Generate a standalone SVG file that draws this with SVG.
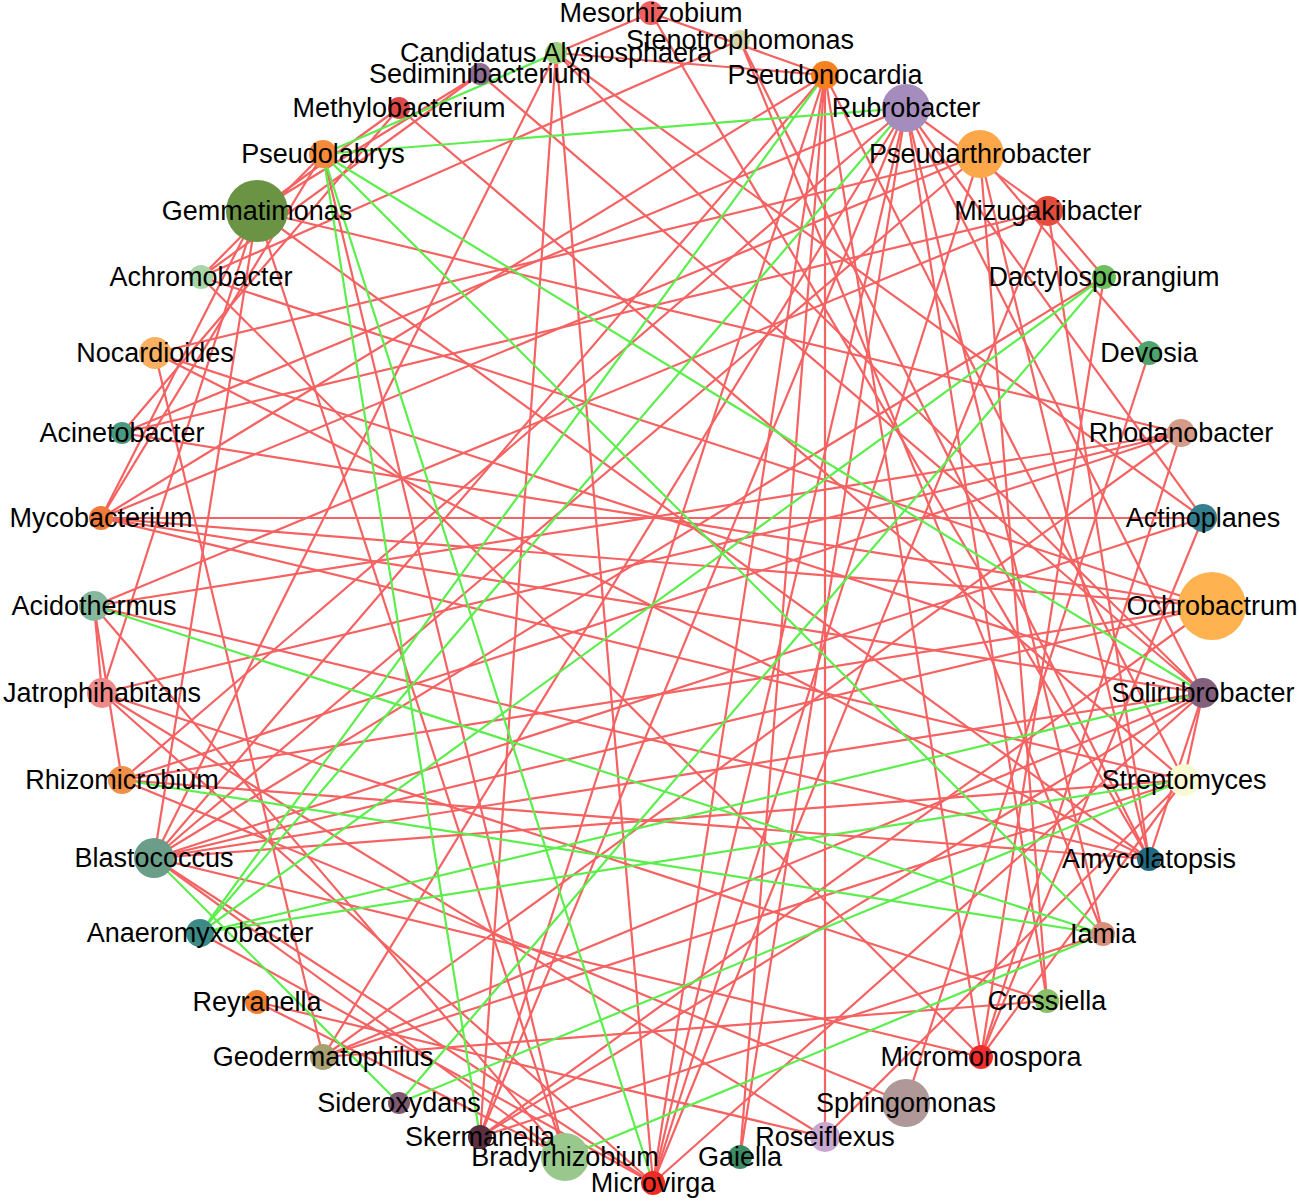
<svg xmlns="http://www.w3.org/2000/svg" width="1299" height="1201" viewBox="0 0 1299 1201">
<style>
.r{stroke:#f56262;stroke-width:2.2;fill:none}
.g{stroke:#5cee4c;stroke-width:2.2;fill:none}
text{font-family:"Liberation Sans",Arial,sans-serif;font-size:27px;fill:#000;text-anchor:middle}
</style>
<rect width="1299" height="1201" fill="#fff"/>
<g id="edges">
<line class="r" x1="651" y1="13" x2="556" y2="53"/>
<line class="r" x1="651" y1="13" x2="825" y2="75"/>
<line class="r" x1="651" y1="13" x2="1149" y2="859"/>
<line class="r" x1="740" y1="40" x2="201" y2="277"/>
<line class="r" x1="740" y1="40" x2="1149" y2="859"/>
<line class="r" x1="556" y1="53" x2="825" y2="75"/>
<line class="r" x1="556" y1="53" x2="480" y2="1137"/>
<line class="r" x1="556" y1="53" x2="653" y2="1183"/>
<line class="r" x1="556" y1="53" x2="154" y2="858"/>
<line class="r" x1="556" y1="53" x2="1203" y2="693"/>
<line class="r" x1="556" y1="53" x2="1203" y2="518"/>
<line class="r" x1="480" y1="74" x2="257" y2="211"/>
<line class="r" x1="480" y1="74" x2="201" y2="277"/>
<line class="r" x1="480" y1="74" x2="1203" y2="693"/>
<line class="r" x1="399" y1="108" x2="257" y2="211"/>
<line class="r" x1="399" y1="108" x2="1184" y2="780"/>
<line class="r" x1="399" y1="108" x2="122" y2="433"/>
<line class="r" x1="323" y1="154" x2="565" y2="1157"/>
<line class="r" x1="323" y1="154" x2="201" y2="277"/>
<line class="r" x1="323" y1="154" x2="101" y2="518"/>
<line class="r" x1="257" y1="211" x2="1181" y2="433"/>
<line class="r" x1="257" y1="211" x2="101" y2="518"/>
<line class="r" x1="257" y1="211" x2="102" y2="693"/>
<line class="r" x1="257" y1="211" x2="154" y2="858"/>
<line class="r" x1="257" y1="211" x2="565" y2="1157"/>
<line class="r" x1="201" y1="277" x2="1212" y2="606"/>
<line class="r" x1="201" y1="277" x2="981" y2="1057"/>
<line class="r" x1="155" y1="353" x2="980" y2="154"/>
<line class="r" x1="155" y1="353" x2="1203" y2="693"/>
<line class="r" x1="155" y1="353" x2="323" y2="1057"/>
<line class="r" x1="122" y1="433" x2="1212" y2="606"/>
<line class="r" x1="122" y1="433" x2="906" y2="108"/>
<line class="r" x1="122" y1="433" x2="1048" y2="211"/>
<line class="r" x1="101" y1="518" x2="1203" y2="518"/>
<line class="r" x1="101" y1="518" x2="1203" y2="693"/>
<line class="r" x1="101" y1="518" x2="1212" y2="606"/>
<line class="r" x1="101" y1="518" x2="825" y2="75"/>
<line class="r" x1="101" y1="518" x2="1184" y2="780"/>
<line class="r" x1="101" y1="518" x2="980" y2="154"/>
<line class="r" x1="94" y1="606" x2="1149" y2="859"/>
<line class="r" x1="94" y1="606" x2="565" y2="1157"/>
<line class="r" x1="94" y1="606" x2="102" y2="693"/>
<line class="r" x1="94" y1="606" x2="122" y2="780"/>
<line class="r" x1="94" y1="606" x2="1048" y2="211"/>
<line class="r" x1="94" y1="606" x2="1181" y2="433"/>
<line class="r" x1="102" y1="693" x2="1181" y2="433"/>
<line class="r" x1="102" y1="693" x2="825" y2="1137"/>
<line class="r" x1="102" y1="693" x2="1047" y2="1001"/>
<line class="r" x1="102" y1="693" x2="653" y2="1183"/>
<line class="r" x1="122" y1="780" x2="1181" y2="433"/>
<line class="r" x1="122" y1="780" x2="906" y2="108"/>
<line class="r" x1="122" y1="780" x2="1212" y2="606"/>
<line class="r" x1="122" y1="780" x2="906" y2="1103"/>
<line class="r" x1="154" y1="858" x2="1203" y2="693"/>
<line class="r" x1="154" y1="858" x2="1203" y2="518"/>
<line class="r" x1="154" y1="858" x2="825" y2="75"/>
<line class="r" x1="154" y1="858" x2="1104" y2="277"/>
<line class="r" x1="154" y1="858" x2="980" y2="154"/>
<line class="r" x1="154" y1="858" x2="1212" y2="606"/>
<line class="r" x1="154" y1="858" x2="1184" y2="780"/>
<line class="r" x1="154" y1="858" x2="565" y2="1157"/>
<line class="r" x1="154" y1="858" x2="981" y2="1057"/>
<line class="r" x1="200" y1="933" x2="653" y2="1183"/>
<line class="r" x1="257" y1="1002" x2="565" y2="1157"/>
<line class="r" x1="257" y1="1002" x2="825" y2="1137"/>
<line class="r" x1="323" y1="1057" x2="1203" y2="693"/>
<line class="r" x1="323" y1="1057" x2="1181" y2="433"/>
<line class="r" x1="323" y1="1057" x2="906" y2="108"/>
<line class="r" x1="323" y1="1057" x2="1047" y2="1001"/>
<line class="r" x1="323" y1="1057" x2="1184" y2="780"/>
<line class="r" x1="480" y1="1137" x2="906" y2="108"/>
<line class="r" x1="480" y1="1137" x2="1212" y2="606"/>
<line class="r" x1="480" y1="1137" x2="1203" y2="693"/>
<line class="r" x1="480" y1="1137" x2="825" y2="75"/>
<line class="r" x1="480" y1="1137" x2="1103" y2="934"/>
<line class="r" x1="653" y1="1183" x2="825" y2="75"/>
<line class="r" x1="653" y1="1183" x2="906" y2="108"/>
<line class="r" x1="653" y1="1183" x2="980" y2="154"/>
<line class="r" x1="653" y1="1183" x2="1048" y2="211"/>
<line class="r" x1="653" y1="1183" x2="1203" y2="693"/>
<line class="r" x1="653" y1="1183" x2="154" y2="858"/>
<line class="r" x1="740" y1="1157" x2="906" y2="108"/>
<line class="r" x1="740" y1="1157" x2="825" y2="75"/>
<line class="r" x1="825" y1="1137" x2="825" y2="75"/>
<line class="r" x1="825" y1="1137" x2="1184" y2="780"/>
<line class="r" x1="906" y1="1103" x2="1149" y2="353"/>
<line class="r" x1="981" y1="1057" x2="825" y2="75"/>
<line class="r" x1="981" y1="1057" x2="1104" y2="277"/>
<line class="r" x1="981" y1="1057" x2="1181" y2="433"/>
<line class="r" x1="981" y1="1057" x2="1203" y2="518"/>
<line class="r" x1="981" y1="1057" x2="1184" y2="780"/>
<line class="r" x1="1103" y1="934" x2="906" y2="108"/>
<line class="r" x1="1103" y1="934" x2="740" y2="40"/>
<line class="r" x1="1149" y1="859" x2="1203" y2="693"/>
<line class="r" x1="1149" y1="859" x2="155" y2="353"/>
<line class="r" x1="1149" y1="859" x2="257" y2="211"/>
<line class="r" x1="1149" y1="859" x2="122" y2="780"/>
<line class="r" x1="1149" y1="859" x2="980" y2="154"/>
<line class="r" x1="1149" y1="859" x2="1048" y2="211"/>
<line class="r" x1="1184" y1="780" x2="1203" y2="693"/>
<line class="r" x1="1184" y1="780" x2="825" y2="75"/>
<line class="r" x1="1149" y1="353" x2="980" y2="154"/>
<line class="r" x1="906" y1="108" x2="1047" y2="1001"/>
<line class="r" x1="906" y1="108" x2="1203" y2="693"/>
<line class="r" x1="906" y1="108" x2="1203" y2="518"/>
<line class="r" x1="906" y1="108" x2="1048" y2="211"/>
<line class="r" x1="980" y1="154" x2="1047" y2="1001"/>
<line class="r" x1="1048" y1="211" x2="1104" y2="277"/>
<line class="g" x1="556" y1="53" x2="323" y2="154"/>
<line class="g" x1="323" y1="154" x2="906" y2="108"/>
<line class="g" x1="323" y1="154" x2="1203" y2="693"/>
<line class="g" x1="323" y1="154" x2="1103" y2="934"/>
<line class="g" x1="323" y1="154" x2="480" y2="1137"/>
<line class="g" x1="323" y1="154" x2="653" y2="1183"/>
<line class="g" x1="122" y1="780" x2="1103" y2="934"/>
<line class="g" x1="94" y1="606" x2="1103" y2="934"/>
<line class="g" x1="565" y1="1157" x2="1103" y2="934"/>
<line class="g" x1="825" y1="75" x2="200" y2="933"/>
<line class="g" x1="906" y1="108" x2="200" y2="933"/>
<line class="g" x1="1104" y1="277" x2="200" y2="933"/>
<line class="g" x1="1104" y1="277" x2="399" y2="1103"/>
<line class="g" x1="399" y1="1103" x2="1184" y2="780"/>
<line class="g" x1="200" y1="933" x2="1203" y2="693"/>
<line class="g" x1="200" y1="933" x2="1184" y2="780"/>
<line class="g" x1="154" y1="858" x2="399" y2="1103"/>
</g>
<g id="n0"><circle cx="651" cy="13" r="12" fill="#f06060"/><text x="651" y="22">Mesorhizobium</text></g>
<g id="n1"><circle cx="740" cy="40" r="10" fill="#d8d4a8"/><text x="740" y="49">Stenotrophomonas</text></g>
<g id="n2"><circle cx="825" cy="75" r="14" fill="#f7801f"/><text x="825" y="84">Pseudonocardia</text></g>
<g id="n3"><circle cx="906" cy="108" r="24" fill="#a48cbc"/><text x="906" y="117">Rubrobacter</text></g>
<g id="n4"><circle cx="980" cy="154" r="24" fill="#fca84a"/><text x="980" y="163">Pseudarthrobacter</text></g>
<g id="n5"><circle cx="1048" cy="211" r="15" fill="#e44c3c"/><text x="1048" y="220">Mizugakiibacter</text></g>
<g id="n6"><circle cx="1104" cy="277" r="12" fill="#6cbf5c"/><text x="1104" y="286">Dactylosporangium</text></g>
<g id="n7"><circle cx="1149" cy="353" r="12" fill="#4ea46a"/><text x="1149" y="362">Devosia</text></g>
<g id="n8"><circle cx="1181" cy="433" r="14" fill="#d49c88"/><text x="1181" y="442">Rhodanobacter</text></g>
<g id="n9"><circle cx="1203" cy="518" r="14" fill="#367f8e"/><text x="1203" y="527">Actinoplanes</text></g>
<g id="n10"><circle cx="1212" cy="606" r="34" fill="#ffb350"/><text x="1212" y="615">Ochrobactrum</text></g>
<g id="n11"><circle cx="1203" cy="693" r="15" fill="#83607e"/><text x="1203" y="702">Solirubrobacter</text></g>
<g id="n12"><circle cx="1184" cy="780" r="16" fill="#fafad2"/><text x="1184" y="789">Streptomyces</text></g>
<g id="n13"><circle cx="1149" cy="859" r="12" fill="#1f6a80"/><text x="1149" y="868">Amycolatopsis</text></g>
<g id="n14"><circle cx="1103" cy="934" r="12" fill="#d8907c"/><text x="1103" y="943">Iamia</text></g>
<g id="n15"><circle cx="1047" cy="1001" r="12" fill="#86c068"/><text x="1047" y="1010">Crossiella</text></g>
<g id="n16"><circle cx="981" cy="1057" r="12" fill="#f02c2c"/><text x="981" y="1066">Micromonospora</text></g>
<g id="n17"><circle cx="906" cy="1103" r="24" fill="#b09898"/><text x="906" y="1112">Sphingomonas</text></g>
<g id="n18"><circle cx="825" cy="1137" r="15" fill="#c8a8d0"/><text x="825" y="1146">Roseiflexus</text></g>
<g id="n19"><circle cx="740" cy="1157" r="12" fill="#3a8c64"/><text x="740" y="1166">Gaiella</text></g>
<g id="n20"><circle cx="653" cy="1183" r="12" fill="#f22a22"/><text x="653" y="1192">Microvirga</text></g>
<g id="n21"><circle cx="565" cy="1157" r="24" fill="#98c88c"/><text x="565" y="1166">Bradyrhizobium</text></g>
<g id="n22"><circle cx="480" cy="1137" r="12" fill="#5a3040"/><text x="480" y="1146">Skermanella</text></g>
<g id="n23"><circle cx="399" cy="1103" r="11" fill="#7e5a72"/><text x="399" y="1112">Sideroxydans</text></g>
<g id="n24"><circle cx="323" cy="1057" r="13" fill="#a8a070"/><text x="323" y="1066">Geodermatophilus</text></g>
<g id="n25"><circle cx="257" cy="1002" r="12" fill="#f08030"/><text x="257" y="1011">Reyranella</text></g>
<g id="n26"><circle cx="200" cy="933" r="14" fill="#3c8a86"/><text x="200" y="942">Anaeromyxobacter</text></g>
<g id="n27"><circle cx="154" cy="858" r="20" fill="#6a9e88"/><text x="154" y="867">Blastococcus</text></g>
<g id="n28"><circle cx="122" cy="780" r="14" fill="#f09048"/><text x="122" y="789">Rhizomicrobium</text></g>
<g id="n29"><circle cx="102" cy="693" r="15" fill="#f08a8a"/><text x="102" y="702">Jatrophihabitans</text></g>
<g id="n30"><circle cx="94" cy="606" r="15" fill="#86b89e"/><text x="94" y="615">Acidothermus</text></g>
<g id="n31"><circle cx="101" cy="518" r="12" fill="#f07a3a"/><text x="101" y="527">Mycobacterium</text></g>
<g id="n32"><circle cx="122" cy="433" r="11" fill="#4a9a80"/><text x="122" y="442">Acinetobacter</text></g>
<g id="n33"><circle cx="155" cy="353" r="16" fill="#f8b060"/><text x="155" y="362">Nocardioides</text></g>
<g id="n34"><circle cx="201" cy="277" r="12" fill="#a8d4a8"/><text x="201" y="286">Achromobacter</text></g>
<g id="n35"><circle cx="257" cy="211" r="31" fill="#6a9444"/><text x="257" y="220">Gemmatimonas</text></g>
<g id="n36"><circle cx="323" cy="154" r="14" fill="#f58a3a"/><text x="323" y="163">Pseudolabrys</text></g>
<g id="n37"><circle cx="399" cy="108" r="11" fill="#e04848"/><text x="399" y="117">Methylobacterium</text></g>
<g id="n38"><circle cx="480" cy="74" r="11" fill="#8e6e90"/><text x="480" y="83">Sediminibacterium</text></g>
<g id="n39"><circle cx="556" cy="53" r="11" fill="#9cd07c"/><text x="556" y="62">Candidatus Alysiosphaera</text></g>
</svg>
